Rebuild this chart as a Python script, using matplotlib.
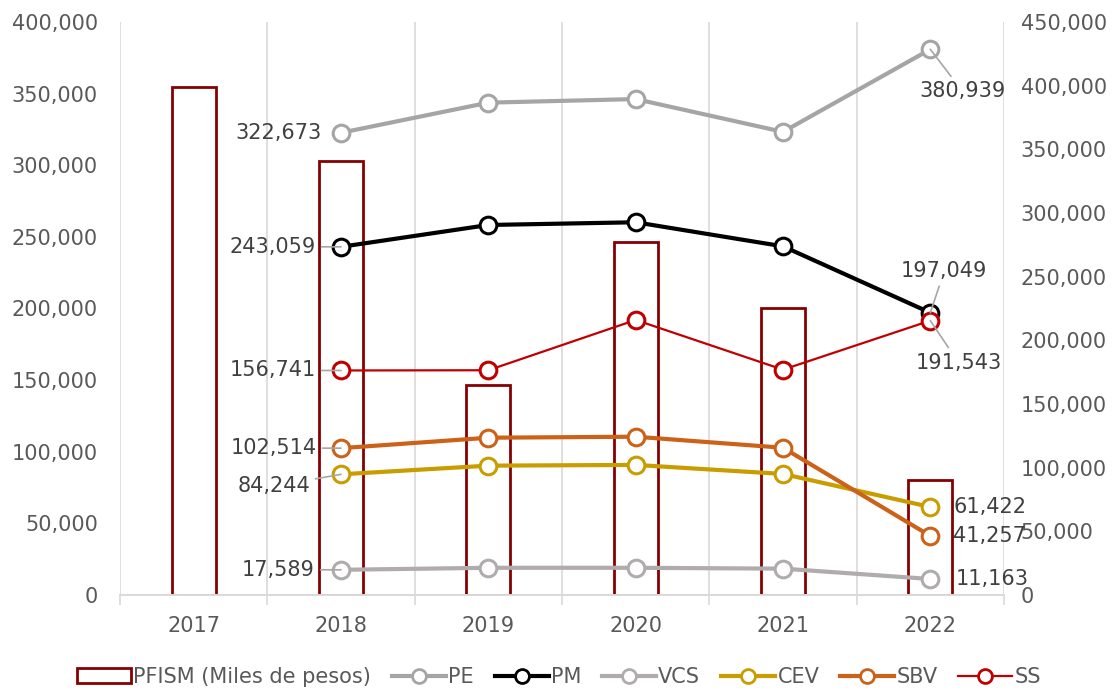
import matplotlib
matplotlib.use("Agg")
import matplotlib.pyplot as plt
from matplotlib.patches import Patch
from matplotlib.lines import Line2D
from matplotlib.ticker import FuncFormatter, MultipleLocator, FixedLocator
import numpy as np

years = ["2017", "2018", "2019", "2020", "2021", "2022"]
pfism = [398700, 341100, 164900, 277000, 225200, 90300]

line_years = ["2018", "2019", "2020", "2021", "2022"]
pe = [322673, 343700, 346200, 323300, 380939]
pm = [243059, 258300, 260200, 243400, 197049]
vcs = [17589, 19000, 19000, 18400, 11163]
cev = [84244, 90300, 90800, 84500, 61422]
sbv = [102514, 109800, 110500, 102800, 41257]
ss = [156741, 156900, 192000, 157300, 191543]

series = [
    ("PE", pe, "#a5a5a5", 3.0),
    ("PM", pm, "#000000", 3.0),
    ("VCS", vcs, "#b0acac", 3.0),
    ("CEV", cev, "#c99c00", 3.0),
    ("SBV", sbv, "#cc6118", 3.0),
    ("SS", ss, "#c00000", 1.6),
]

plt.rcParams['font.family'] = ['DejaVu Sans']
fig = plt.figure(figsize=(11.18, 6.93), dpi=100)
ax = fig.add_axes([120/1118, 1-595/693, (1004-120)/1118, (595-22)/693])
ax2 = ax.twinx()
ax.set_zorder(ax2.get_zorder() + 1)
ax.patch.set_visible(False)

x = np.arange(len(years))
xl = np.array([years.index(y) for y in line_years])

ax2.bar(x, pfism, width=0.3, facecolor="white", edgecolor="#850000", linewidth=2, zorder=2)
for b in np.arange(-0.5, len(years), 1.0):
    ax2.axvline(b, color="#d9d9d9", lw=1.2, zorder=0)

for name, vals, col, lw in series:
    ax.plot(xl, vals, color=col, lw=lw, marker="o", markersize=12,
            markerfacecolor="white", markeredgecolor=col, markeredgewidth=2.2, zorder=3)

ax.set_xlim(-0.5, len(years) - 0.5)
ax.set_ylim(0, 400000)
ax2.set_ylim(0, 450000)
ax.yaxis.set_major_locator(MultipleLocator(50000))
ax2.yaxis.set_major_locator(MultipleLocator(50000))
fmt = FuncFormatter(lambda v, p: f"{int(v):,}")
ax.yaxis.set_major_formatter(fmt)
ax2.yaxis.set_major_formatter(fmt)
ax.set_xticks(x)
ax.set_xticklabels(years)
ax.xaxis.set_minor_locator(FixedLocator(np.arange(-0.5, len(years), 1.0)))

fs = 15
tc = "#595959"
ax.tick_params(axis="y", length=0, pad=16, labelsize=fs, labelcolor=tc)
ax2.tick_params(axis="y", length=0, pad=12, labelsize=fs, labelcolor=tc)
ax.tick_params(axis="x", which="major", length=0, pad=15, labelsize=fs, labelcolor=tc)
ax.tick_params(axis="x", which="minor", length=7, color="#d9d9d9", width=1.2)
ax2.tick_params(axis="x", length=0)
for a in (ax, ax2):
    for s in ("top", "left", "right"):
        a.spines[s].set_visible(False)
    a.spines["bottom"].set_color("#d9d9d9")
    a.spines["bottom"].set_linewidth(1.2)

lc = "#404040"
gc = "#a6a6a6"
# (value series, index, offset px, ha, leader)
labels = [
    (pe, 0, (-19, 0), "right", False),
    (pm, 0, (-25, 0), "right", True),
    (ss, 0, (-25, 0), "right", True),
    (sbv, 0, (-24, 0), "right", True),
    (cev, 0, (-31, -12), "right", True),
    (vcs, 0, (-26, 0), "right", True),
    (pe, 4, (-11, -42), "left", True),
    (pm, 4, (14, 42), "center", True),
    (ss, 4, (-15, -42), "left", True),
    (cev, 4, (23, 0), "left", False),
    (sbv, 4, (23, 0), "left", False),
    (vcs, 4, (25, 0), "left", False),
]
for vals, i, off, ha, leader in labels:
    kw = {}
    if leader:
        kw["arrowprops"] = dict(arrowstyle="-", color=gc, lw=1.2, shrinkA=2, shrinkB=0)
    ax.annotate(f"{vals[i]:,}", xy=(xl[i], vals[i]), xytext=off, textcoords="offset pixels",
                ha=ha, va="center", fontsize=fs, color=lc, zorder=5, **kw)

handles = [Patch(facecolor="white", edgecolor="#850000", linewidth=2, label="PFISM (Miles de pesos)")]
for name, vals, col, lw in series:
    handles.append(Line2D([], [], color=col, lw=lw, marker="o", markersize=10,
                          markerfacecolor="white", markeredgecolor=col, markeredgewidth=2, label=name))
fig.legend(handles=handles, loc="center", bbox_to_anchor=(0.5, 1-677/693), ncol=7, frameon=False,
           fontsize=fs, labelcolor=tc, handlelength=2.6, handletextpad=0.1, columnspacing=1.0)

fig.savefig("out.png", dpi=100)
